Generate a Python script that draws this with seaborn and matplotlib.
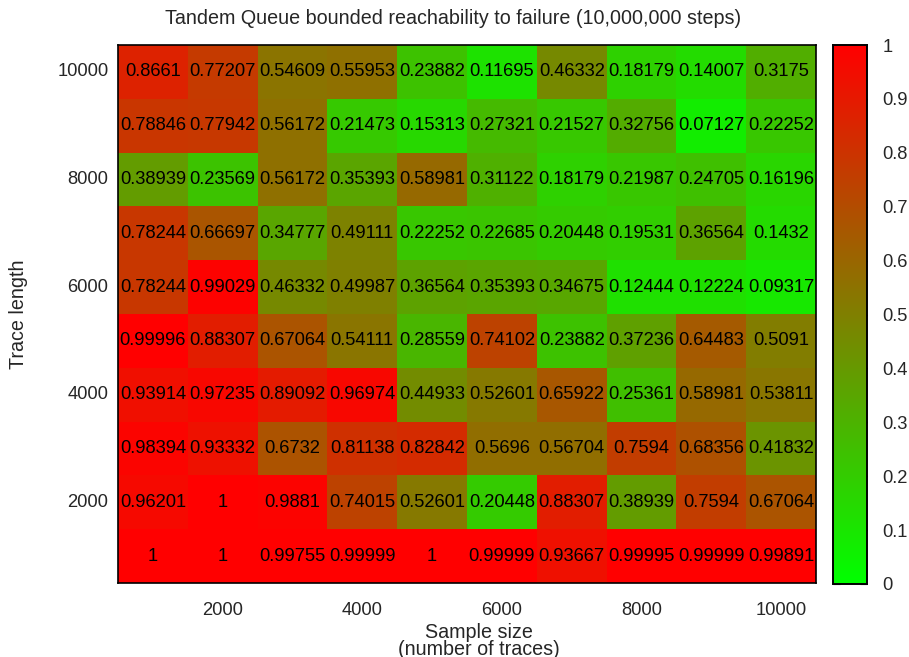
import numpy as np
import pandas as pd
import matplotlib
matplotlib.use("Agg")
import matplotlib.pyplot as plt
from matplotlib.colors import LinearSegmentedColormap
import seaborn as sns

sample_sizes = [1000, 2000, 3000, 4000, 5000, 6000, 7000, 8000, 9000, 10000]
trace_lengths = [10000, 9000, 8000, 7000, 6000, 5000, 4000, 3000, 2000, 1000]

row_10000 = ["0.8661", "0.77207", "0.54609", "0.55953", "0.23882", "0.11695", "0.46332", "0.18179", "0.14007", "0.3175"]
row_9000 = ["0.78846", "0.77942", "0.56172", "0.21473", "0.15313", "0.27321", "0.21527", "0.32756", "0.07127", "0.22252"]
row_8000 = ["0.38939", "0.23569", "0.56172", "0.35393", "0.58981", "0.31122", "0.18179", "0.21987", "0.24705", "0.16196"]
row_7000 = ["0.78244", "0.66697", "0.34777", "0.49111", "0.22252", "0.22685", "0.20448", "0.19531", "0.36564", "0.1432"]
row_6000 = ["0.78244", "0.99029", "0.46332", "0.49987", "0.36564", "0.35393", "0.34675", "0.12444", "0.12224", "0.09317"]
row_5000 = ["0.99996", "0.88307", "0.67064", "0.54111", "0.28559", "0.74102", "0.23882", "0.37236", "0.64483", "0.5091"]
row_4000 = ["0.93914", "0.97235", "0.89092", "0.96974", "0.44933", "0.52601", "0.65922", "0.25361", "0.58981", "0.53811"]
row_3000 = ["0.98394", "0.93332", "0.6732", "0.81138", "0.82842", "0.5696", "0.56704", "0.7594", "0.68356", "0.41832"]
row_2000 = ["0.96201", "1", "0.9881", "0.74015", "0.52601", "0.20448", "0.88307", "0.38939", "0.7594", "0.67064"]
row_1000 = ["1", "1", "0.99755", "0.99999", "1", "0.99999", "0.93667", "0.99995", "0.99999", "0.99891"]

labels = np.array([row_10000, row_9000, row_8000, row_7000, row_6000,
                   row_5000, row_4000, row_3000, row_2000, row_1000])
values = labels.astype(float)
df = pd.DataFrame(values, index=trace_lengths, columns=sample_sizes)

cbar_ticks = [0, 0.1, 0.2, 0.3, 0.4, 0.5, 0.6, 0.7, 0.8, 0.9, 1]
cbar_ticklabels = ["0", "0.1", "0.2", "0.3", "0.4", "0.5", "0.6", "0.7", "0.8", "0.9", "1"]

sns.set_theme(style="white")
plt.rcParams['font.family'] = ['Liberation Sans', 'DejaVu Sans']

FS = 13.2
FS_LAB = 14.2

cmap = LinearSegmentedColormap.from_list("gr", [(0, 1, 0), (1, 0, 0)])

fig = plt.figure(figsize=(9.09, 6.57), dpi=100)
ax = fig.add_axes([118/909, 1-583/657, (816-118)/909, (583-45)/657])
cax = fig.add_axes([833/909, 1-584/657, 34/909, (584-45)/657])

sns.heatmap(df, ax=ax, cbar_ax=cax, cmap=cmap, vmin=0, vmax=1,
            annot=labels, fmt="", annot_kws={"fontsize": FS, "color": "black"},
            cbar_kws={"ticks": cbar_ticks})

# axes ticks
xt = [i + 0.5 for i, s in enumerate(sample_sizes) if s % 2000 == 0]
ax.set_xticks(xt)
ax.set_xticklabels([str(s) for s in sample_sizes if s % 2000 == 0], rotation=0, fontsize=FS)
yt = [i + 0.5 for i, t in enumerate(trace_lengths) if t % 2000 == 0]
ax.set_yticks(yt)
ax.set_yticklabels([str(t) for t in trace_lengths if t % 2000 == 0], rotation=0, fontsize=FS)
ax.tick_params(axis="both", length=0)
ax.tick_params(axis="x", pad=14)
ax.tick_params(axis="y", pad=7)
for sp in ax.spines.values():
    sp.set_visible(True)
    sp.set_color("black")
    sp.set_linewidth(1.2)

ax.set_xlabel("Sample size\n(number of traces)", fontsize=FS_LAB, linespacing=0.82)
ax.xaxis.set_label_coords(0.517, -0.075)
ax.set_ylabel("Trace length", fontsize=FS_LAB)
ax.yaxis.set_label_coords(-0.129, 0.5)

fig.text(453/909, 1-18/657, "Tandem Queue bounded reachability to failure (10,000,000 steps)",
         ha="center", va="center", fontsize=FS_LAB)

# colorbar
cax.set_yticks(cbar_ticks)
cax.set_yticklabels(cbar_ticklabels, fontsize=FS)
cax.tick_params(axis="y", direction="in", length=5, width=0.8, color="black",
                left=True, right=True, labelleft=False, labelright=True, pad=11)
for sp in cax.spines.values():
    sp.set_visible(True)
    sp.set_color("black")
    sp.set_linewidth(1.2)

fig.savefig("out.png", dpi=100)
